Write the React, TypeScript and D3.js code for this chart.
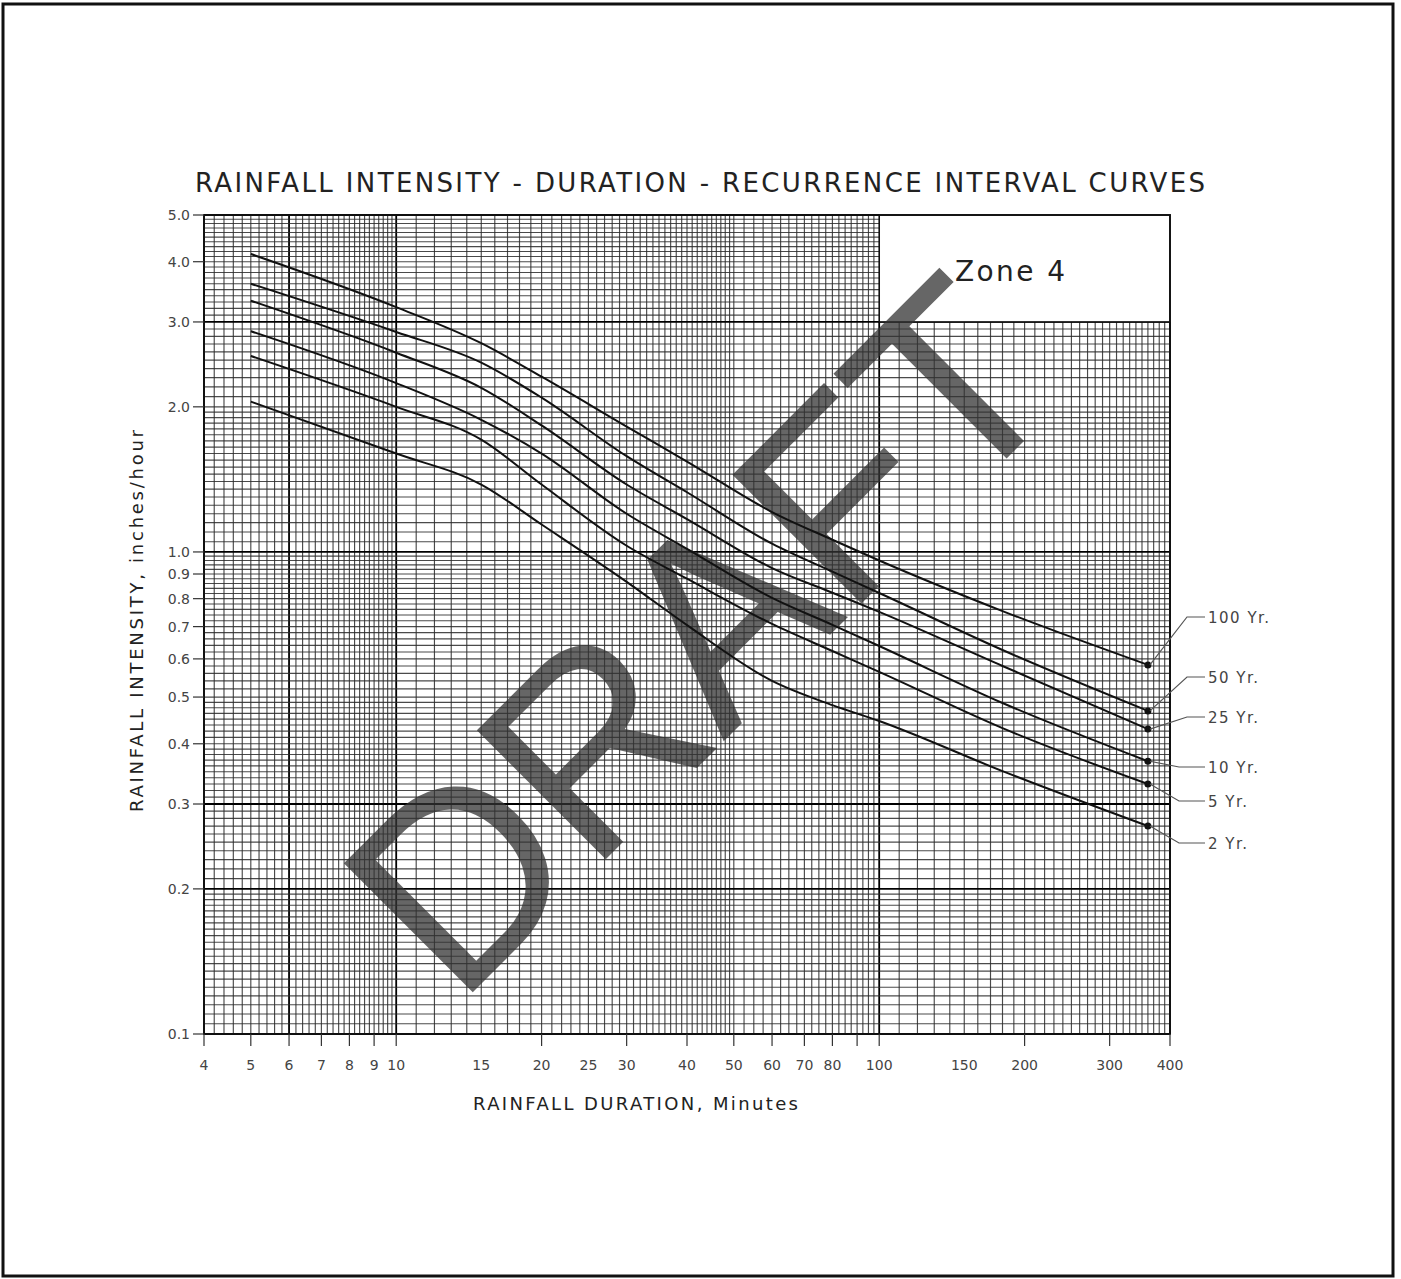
import React, { useRef, useEffect } from "react";
import * as d3 from "d3";

// Rainfall duration (minutes) where the curves were read
const durations = [5, 10, 15, 20, 30, 40, 60, 80, 100, 180, 360];

// Intensity (inches/hour) per recurrence interval
const yr100 = [4.15, 3.22, 2.71, 2.31, 1.82, 1.54, 1.21, 1.06, 0.96, 0.754, 0.583];
const yr50 = [3.6, 2.86, 2.47, 2.09, 1.58, 1.33, 1.04, 0.91, 0.822, 0.626, 0.468];
const yr25 = [3.32, 2.59, 2.19, 1.83, 1.38, 1.17, 0.926, 0.823, 0.751, 0.58, 0.429];
const yr10 = [2.87, 2.24, 1.88, 1.6, 1.2, 1.015, 0.803, 0.706, 0.638, 0.486, 0.368];
const yr5 = [2.55, 2.0, 1.71, 1.38, 1.03, 0.88, 0.709, 0.623, 0.564, 0.431, 0.33];
const yr2 = [2.05, 1.6, 1.38, 1.14, 0.867, 0.705, 0.54, 0.481, 0.446, 0.351, 0.27];

const seriesNames = ["100 Yr.", "50 Yr.", "25 Yr.", "10 Yr.", "5 Yr.", "2 Yr."];

// axis ticks
const xTickMarks = [4, 5, 6, 7, 8, 9, 10, 20, 30, 40, 50, 60, 70, 80, 90, 100, 200, 300, 400];
const xTickLabels = [4, 5, 6, 7, 8, 9, 10, 15, 20, 25, 30, 40, 50, 60, 70, 80, 100, 150, 200, 300, 400];
const yTickLabels = ["0.1", "0.2", "0.3", "0.4", "0.5", "0.6", "0.7", "0.8", "0.9", "1.0", "2.0", "3.0", "4.0", "5.0"];

// label rows for the leader notes on the right (pixels)
const noteRows = [617, 677, 717, 767, 801, 843];

const rangeStep = (a: number, b: number, s: number) =>
  d3.range(Math.round((b - a) / s)).map((i) => +(a + i * s).toFixed(4));

const App = () => {
  const svgRef = useRef<SVGSVGElement | null>(null);

  useEffect(() => {
    const width = 1401;
    const height = 1279;
    const svg = d3.select(svgRef.current).attr("width", width).attr("height", height);
    svg.selectAll("*").remove();

    const font = "'DejaVu Sans', sans-serif";

    const x = d3.scaleLog().domain([4, 400]).range([204, 1170]);
    const y = d3.scaleLog().domain([0.1, 5]).range([1034, 215]);

    // page frame
    svg
      .append("rect")
      .attr("x", 3)
      .attr("y", 4)
      .attr("width", 1390)
      .attr("height", 1272)
      .attr("fill", "white")
      .attr("stroke", "#111")
      .attr("stroke-width", 3);

    // graph paper grid
    const xGrid = [
      ...rangeStep(4, 10, 0.2),
      ...rangeStep(10, 50, 1),
      ...rangeStep(50, 100, 2.5),
      ...rangeStep(100, 400, 10),
      400,
    ];
    const yGrid = [
      ...rangeStep(0.1, 0.2, 0.005),
      ...rangeStep(0.2, 0.4, 0.01),
      ...rangeStep(0.4, 0.5, 0.0125),
      ...rangeStep(0.5, 1, 0.02),
      ...rangeStep(1, 2, 0.05),
      ...rangeStep(2, 5, 0.1),
      5,
    ];
    const xHeavy = new Set([4, 6, 10, 100, 400]);
    const yHeavy = new Set([0.1, 0.2, 0.3, 1, 3, 5]);

    const grid = svg.append("g");
    grid
      .selectAll("line.v")
      .data(xGrid)
      .join("line")
      .attr("class", "v")
      .attr("x1", (d) => x(d))
      .attr("x2", (d) => x(d))
      .attr("y1", (d) => (d >= 100 ? y(3) : y(5)))
      .attr("y2", y(0.1))
      .attr("stroke", (d) => (xHeavy.has(d) ? "#000" : "#2a2a2a"))
      .attr("stroke-opacity", (d) => (xHeavy.has(d) ? 1 : 0.85))
      .attr("stroke-width", (d) => (xHeavy.has(d) ? 1.8 : 1.15));
    grid
      .selectAll("line.h")
      .data(yGrid)
      .join("line")
      .attr("class", "h")
      .attr("y1", (d) => y(d))
      .attr("y2", (d) => y(d))
      .attr("x1", x(4))
      .attr("x2", (d) => (d > 3.001 ? x(100) : x(400)))
      .attr("stroke", (d) => (yHeavy.has(d) ? "#000" : "#2a2a2a"))
      .attr("stroke-opacity", (d) => (yHeavy.has(d) ? 1 : 0.85))
      .attr("stroke-width", (d) => (yHeavy.has(d) ? 1.8 : 1.15));

    // Zone box
    svg
      .append("rect")
      .attr("x", x(100))
      .attr("y", y(5))
      .attr("width", x(400) - x(100))
      .attr("height", y(3) - y(5))
      .attr("fill", "white")
      .attr("stroke", "#111")
      .attr("stroke-width", 1.6);
    svg
      .append("text")
      .attr("x", 955)
      .attr("y", 281)
      .attr("font-family", font)
      .attr("font-size", 28)
      .attr("textLength", 110)
      .attr("lengthAdjust", "spacing")
      .attr("fill", "#222")
      .text("Zone 4");

    // plot frame
    svg
      .append("rect")
      .attr("x", x(4))
      .attr("y", y(5))
      .attr("width", x(400) - x(4))
      .attr("height", y(0.1) - y(5))
      .attr("fill", "none")
      .attr("stroke", "#111")
      .attr("stroke-width", 1.8);

    // watermark
    svg
      .append("text")
      .attr("x", 765)
      .attr("y", 700)
      .attr("transform", "rotate(-45 765 700)")
      .attr("text-anchor", "middle")
      .attr("font-family", "'Liberation Sans', sans-serif")
      .attr("font-size", 265)
      .attr("textLength", 870)
      .attr("lengthAdjust", "spacing")
      .attr("fill", "#333")
      .attr("fill-opacity", 0.75)
      .text("DRAFT");

    // curves
    const table = [yr100, yr50, yr25, yr10, yr5, yr2].map((vals, i) => ({
      name: seriesNames[i],
      points: durations.map((d, j) => [d, vals[j]] as [number, number]),
    }));

    const line = d3
      .line<[number, number]>()
      .x((d) => x(d[0]))
      .y((d) => y(d[1]))
      .curve(d3.curveMonotoneX);

    svg
      .append("g")
      .selectAll("path")
      .data(table)
      .join("path")
      .attr("d", (d) => line(d.points))
      .attr("fill", "none")
      .attr("stroke", "#111")
      .attr("stroke-width", 2);

    const ends = table.map((d) => d.points[d.points.length - 1]);
    svg
      .append("g")
      .selectAll("circle")
      .data(ends)
      .join("circle")
      .attr("cx", (d) => x(d[0]))
      .attr("cy", (d) => y(d[1]))
      .attr("r", 3.5)
      .attr("fill", "#111");

    // leader notes
    const notes = svg.append("g");
    notes
      .selectAll("path")
      .data(ends)
      .join("path")
      .attr("d", (d, i) => {
        const px = x(d[0]) + 2;
        const py = y(d[1]);
        const elbow = noteRows[i] < py ? 1187 : 1179;
        return `M${px},${py}L${elbow},${noteRows[i]}L1205,${noteRows[i]}`;
      })
      .attr("fill", "none")
      .attr("stroke", "#555")
      .attr("stroke-width", 1.2);
    notes
      .selectAll("text")
      .data(seriesNames)
      .join("text")
      .attr("x", 1208)
      .attr("y", (d, i) => noteRows[i] + 6)
      .attr("font-family", font)
      .attr("font-size", 15)
      .attr("letter-spacing", 1.5)
      .attr("fill", "#444")
      .text((d) => d);

    // x axis ticks and labels
    svg
      .append("g")
      .selectAll("line")
      .data(xTickMarks)
      .join("line")
      .attr("x1", (d) => x(d))
      .attr("x2", (d) => x(d))
      .attr("y1", y(0.1))
      .attr("y2", y(0.1) + 12)
      .attr("stroke", "#333")
      .attr("stroke-width", 1.2);
    svg
      .append("g")
      .selectAll("text")
      .data(xTickLabels)
      .join("text")
      .attr("x", (d) => x(d))
      .attr("y", 1070)
      .attr("text-anchor", "middle")
      .attr("font-family", font)
      .attr("font-size", 14)
      .attr("fill", "#444")
      .text((d) => d);

    // y axis ticks and labels
    svg
      .append("g")
      .selectAll("line")
      .data(yTickLabels)
      .join("line")
      .attr("x1", x(4) - 11)
      .attr("x2", x(4))
      .attr("y1", (d) => y(+d))
      .attr("y2", (d) => y(+d))
      .attr("stroke", "#333")
      .attr("stroke-width", 1.2);
    svg
      .append("g")
      .selectAll("text")
      .data(yTickLabels)
      .join("text")
      .attr("x", 190)
      .attr("y", (d) => y(+d) + 5)
      .attr("text-anchor", "end")
      .attr("font-family", font)
      .attr("font-size", 14)
      .attr("fill", "#444")
      .text((d) => d);

    // titles
    svg
      .append("text")
      .attr("x", 195)
      .attr("y", 192)
      .attr("font-family", font)
      .attr("font-size", 26)
      .attr("textLength", 1010)
      .attr("lengthAdjust", "spacing")
      .attr("fill", "#222")
      .text("RAINFALL INTENSITY - DURATION - RECURRENCE INTERVAL CURVES");

    svg
      .append("text")
      .attr("x", 473)
      .attr("y", 1110)
      .attr("font-family", font)
      .attr("font-size", 18)
      .attr("textLength", 325)
      .attr("lengthAdjust", "spacing")
      .attr("fill", "#222")
      .text("RAINFALL DURATION, Minutes");

    svg
      .append("text")
      .attr("transform", "translate(143,812) rotate(-90)")
      .attr("font-family", font)
      .attr("font-size", 18)
      .attr("textLength", 382)
      .attr("lengthAdjust", "spacing")
      .attr("fill", "#222")
      .text("RAINFALL INTENSITY, inches/hour");
  }, []);

  return (
    <svg
      ref={svgRef}
      style={{ position: "absolute", left: 0, top: 0, display: "block", background: "white" }}
    ></svg>
  );
};

export default App;
